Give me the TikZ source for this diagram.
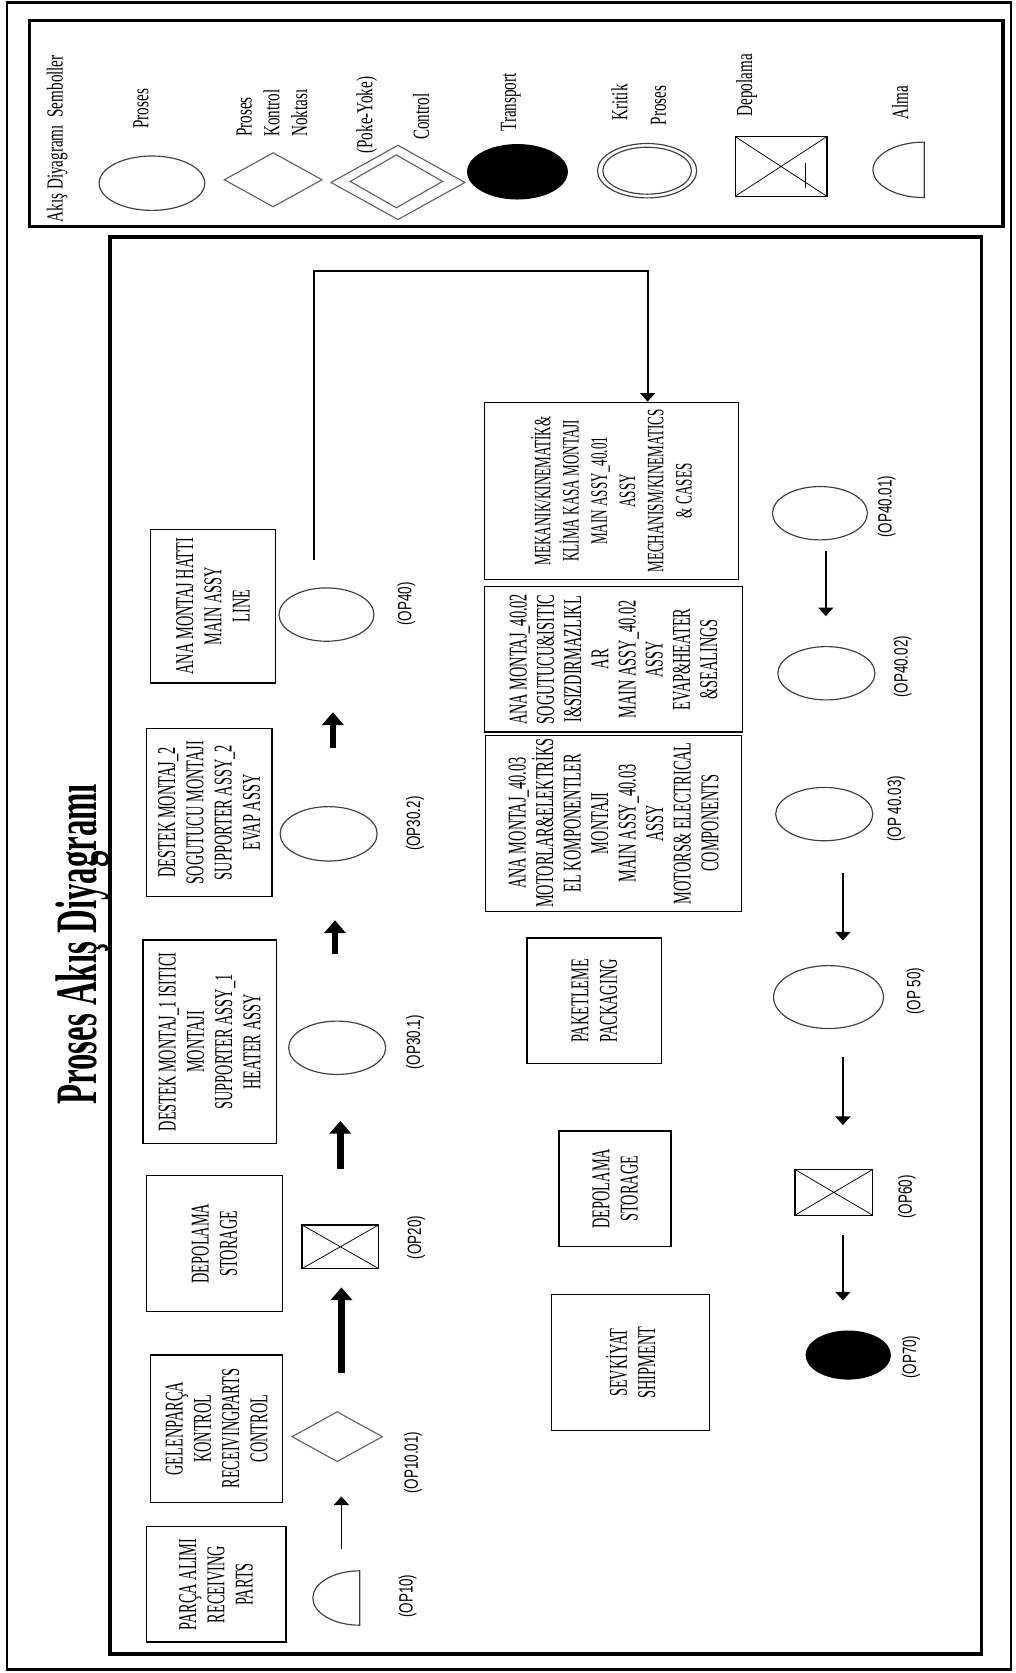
\documentclass[tikz,border=0pt]{standalone}
\usepackage{fontspec}
\setmainfont{Liberation Serif}[FakeStretch=0.56]
\newfontfamily\legendfont{Liberation Serif}[FakeStretch=0.66]
\newfontfamily\opfont{Liberation Sans}[FakeStretch=0.7]
\usetikzlibrary{arrows.meta,shapes.geometric}

\begin{document}
\begin{tikzpicture}[x=1pt, y=-1pt,
    box/.style={draw, line width=1.2pt, rotate=90, align=center, inner sep=0.5pt, font=\fontsize{24}{26.5}\selectfont},
    proc/.style={ellipse, draw=black!75, line width=1.1pt, inner sep=0pt},
    ctrl/.style={diamond, draw=black!60, line width=1.1pt, inner sep=0pt},
    store/.style={draw, line width=1.2pt, inner sep=0pt, path picture={
        \draw[line width=0.7pt] (path picture bounding box.north west) -- (path picture bounding box.south east)
            (path picture bounding box.south west) -- (path picture bounding box.north east);}},
    trans/.style={ellipse, fill=black, inner sep=0pt},
    alma/.style={inner sep=0pt},
    oplabel/.style={rotate=90, inner sep=0pt, font=\opfont\fontsize{18}{20}\selectfont},
    legtext/.style={rotate=90, inner sep=0pt, align=left, font=\legendfont\fontsize{21.5}{26}\selectfont},
    flow/.style={line width=1.6pt, -{Triangle[width=14pt,length=8pt]}},
    bigflow/.style={line width=6pt, -{Triangle[width=20pt,length=12pt]}},
]
    \useasboundingbox (0,0) rectangle (952,1568);
    % frames
    \draw[line width=2.5pt] (6.5,2.5) rectangle (947.5,1565);
    \draw[line width=3pt] (27.5,19.5) rectangle (940,212);
    \draw[line width=3.5pt] (103,222) rectangle (920,1550);

    \node[rotate=90, anchor=base, font=\bfseries\fontsize{55}{60}\selectfont] (title) at (90.5,885) {Proses Akış Diyagramı};

    % legend
    \node[legtext, anchor=base] (lt0) at (58.7,130) {Akış Diyagramı~ Semboller};
    \node[legtext, anchor=base] (lt1) at (139,102) {Proses};
    \node[legtext] (lt2) at (255,106) {Proses\\Kontrol\\Noktası};
    \node[legtext, anchor=base] (lt3a) at (349,108) {(Poke-Yoke)};
    \node[legtext, anchor=base] (lt3b) at (402,109.5) {Control};
    \node[legtext, anchor=base] (lt4) at (483.5,96) {Transport};
    \node[legtext, anchor=base] (lt5a) at (588,96) {Kritik};
    \node[legtext, anchor=base] (lt5b) at (624,99) {Proses};
    \node[legtext, anchor=base] (lt6) at (705,80) {Depolama};
    \node[legtext, anchor=base] (lt7) at (851,96.5) {Alma};

    \node[proc, minimum width=99pt, minimum height=51pt] (leg1) at (142.4,171.7) {};
    \node[ctrl, minimum width=92pt, minimum height=51pt] (leg2) at (256,168.5) {};
    \node[ctrl, minimum width=126pt, minimum height=70pt] (leg3) at (373,171) {};
    \node[ctrl, minimum width=87pt, minimum height=50pt] (leg3i) at (371.5,170) {};
    \node[trans, minimum width=94.5pt, minimum height=52pt] (leg4) at (485,161) {};
    \node[proc, minimum width=93pt, minimum height=51pt] (leg5) at (606.5,160) {};
    \node[proc, minimum width=83pt, minimum height=44pt] (leg5i) at (606.5,160) {};
    \node[store, minimum width=86pt, minimum height=56pt] (leg6) at (732,156) {};
    \draw[line width=1pt] ([xshift=23pt,yshift=3pt]leg6.center) -- ([xshift=23pt,yshift=-20pt]leg6.center);
    \node[alma, minimum width=48pt, minimum height=52pt] (leg7) at (842,159) {};
    \draw[line width=1.1pt, black!75] (leg7.south east) arc[start angle=270, end angle=90, x radius=48pt, y radius=26pt] -- cycle;

    % upper line
    \node[box, minimum width=108pt, minimum height=131pt] (parca) at (202.5,1485) {PARÇA ALIMI\\RECEIVING\\PARTS};
    \node[box, minimum width=138pt, minimum height=124pt] (gelen) at (203,1339) {GELENPARÇA\\KONTROL\\RECEIVINGPARTS\\CONTROL};
    \node[box, minimum width=127pt, minimum height=128pt] (depo1) at (201,1165.5) {DEPOLAMA\\STORAGE};
    \node[box, minimum width=191pt, minimum height=125pt] (destek1) at (196.5,976.5) {DESTEK MONTAJ\_1 ISITICI\\MONTAJI\\SUPPORTER ASSY\_1\\HEATER ASSY};
    \node[box, minimum width=157pt, minimum height=118pt] (destek2) at (196,761.5) {DESTEK MONTAJ\_2\\SOGUTUCU MONTAJI\\SUPPORTER ASSY\_2\\EVAP ASSY};
    \node[box, minimum width=144pt, minimum height=117pt] (anamontaj) at (199.5,568) {ANA MONTAJ HATTI\\MAIN ASSY\\LINE};

    \node[alma, minimum width=44pt, minimum height=51pt] (op10) at (315,1497.5) {};
    \draw[line width=1.1pt, black!75] (op10.south east) arc[start angle=270, end angle=90, x radius=44pt, y radius=25.5pt] -- cycle;
    \node[ctrl, minimum width=85pt, minimum height=47pt] (op1001) at (316,1346.5) {};
    \node[store, minimum width=72pt, minimum height=41pt] (op20) at (319,1168.5) {};
    \node[proc, minimum width=91pt, minimum height=50pt] (op301) at (316,982) {};
    \node[proc, minimum width=91pt, minimum height=51pt] (op302) at (308,781.5) {};
    \node[proc, minimum width=89pt, minimum height=50pt] (op40) at (306,576) {};

    \node[oplabel] (l10) at (382,1496) {(OP10)};
    \node[oplabel] (l1001) at (387,1371) {(OP10.01)};
    \node[oplabel] (l20) at (390,1160) {(OP20)};
    \node[oplabel] (l301) at (389,977) {(OP30.1)};
    \node[oplabel] (l302) at (389,772) {(OP30.2)};
    \node[oplabel] (l40) at (381,566) {(OP40)};

    % lower line
    \node[box, minimum width=166pt, minimum height=238pt, font=\fontsize{22}{26.5}\selectfont] (mekanik) at (573,460) {MEKANIK/KINEMATİK\&\\KLİMA KASA MONTAJI\\MAIN ASSY\_40.01\\ASSY\\MECHANISM/KINEMATICS\\\& CASES};
    \node[box, minimum width=136pt, minimum height=242pt, font=\fontsize{24}{25.5}\selectfont] (sogutucu) at (575,618) {ANA MONTAJ\_40.02\\SOGUTUCU\&ISITIC\\I\&SIZDIRMAZLIKL\\AR\\MAIN ASSY\_40.02\\ASSY\\EVAP\&HEATER\\\&SEALINGS};
    \node[box, minimum width=165pt, minimum height=240pt, font=\fontsize{24}{25.8}\selectfont] (motor) at (575,771.5) {ANA MONTAJ\_40.03\\MOTORLAR\&ELEKTRİKS\\EL KOMPONENTLER\\MONTAJI\\MAIN ASSY\_40.03\\ASSY\\MOTORS\& ELECTRICAL\\COMPONENTS};
    \node[box, minimum width=118pt, minimum height=126pt] (paket) at (557,938) {PAKETLEME\\PACKAGING};
    \node[box, minimum width=108pt, minimum height=105pt] (depo2) at (576.5,1114) {DEPOLAMA\\STORAGE};
    \node[box, minimum width=128pt, minimum height=148pt] (sevk) at (591,1277) {SEVKİYAT\\SHIPMENT};

    \node[proc, minimum width=89pt, minimum height=50pt] (op4001) at (768.5,481) {};
    \node[proc, minimum width=91pt, minimum height=50pt] (op4002) at (774.5,631) {};
    \node[proc, minimum width=91pt, minimum height=50pt] (op4003) at (772.5,763) {};
    \node[proc, minimum width=103pt, minimum height=59pt] (op50) at (776.5,934.5) {};
    \node[store, minimum width=73pt, minimum height=43pt] (op60) at (781.5,1117.5) {};
    \node[trans, minimum width=80pt, minimum height=46pt] (op70) at (795,1270) {};

    \node[oplabel] (l4001) at (831,475) {(OP40.01)};
    \node[oplabel] (l4002) at (846,625) {(OP40.02)};
    \node[oplabel] (l4003) at (840,758) {(OP 40.03)};
    \node[oplabel] (l50) at (858,929) {(OP 50)};
    \node[oplabel] (l60) at (850,1122) {(OP60)};
    \node[oplabel] (l70) at (854,1272) {(OP70)};

    % arrows
    \draw[flow, shorten <=20pt, shorten >=32pt] ([xshift=5pt]op10.north) -- ([xshift=4pt]op1001.south);
    \draw[bigflow, shorten <=36pt, shorten >=17pt] ([xshift=4pt]op1001.north) -- ([xshift=1pt]op20.south);
    \draw[bigflow, shorten <=52pt, shorten >=43pt] (op20.north) -- ([xshift=3pt]op301.south);
    \draw[bigflow, shorten <=62pt, shorten >=55pt] ([xshift=-2pt]op301.north) -- ([xshift=6pt]op302.south);
    \draw[bigflow, shorten <=54pt, shorten >=66pt] ([xshift=4pt]op302.north) -- ([xshift=6pt]op40.south);

    \coordinate (corner) at (607,254);
    \draw[flow] ([xshift=-12pt,yshift=26pt]op40.north) |- (corner) -- (corner |- mekanik.east);

    \draw[flow, shorten <=10pt, shorten >=28pt] ([xshift=5.5pt]op4001.south) -- ([xshift=-0.5pt]op4002.north);
    \draw[flow, shorten <=30pt, shorten >=23pt] ([xshift=17.5pt]op4003.south) -- ([xshift=13.5pt]op50.north);
    \draw[flow, shorten <=26pt, shorten >=41pt] ([xshift=13.5pt]op50.south) -- ([xshift=8.5pt]op60.north);
    \draw[flow, shorten <=18pt, shorten >=28pt] ([xshift=8.5pt]op60.south) -- ([xshift=-5pt]op70.north);
\end{tikzpicture}
\end{document}
